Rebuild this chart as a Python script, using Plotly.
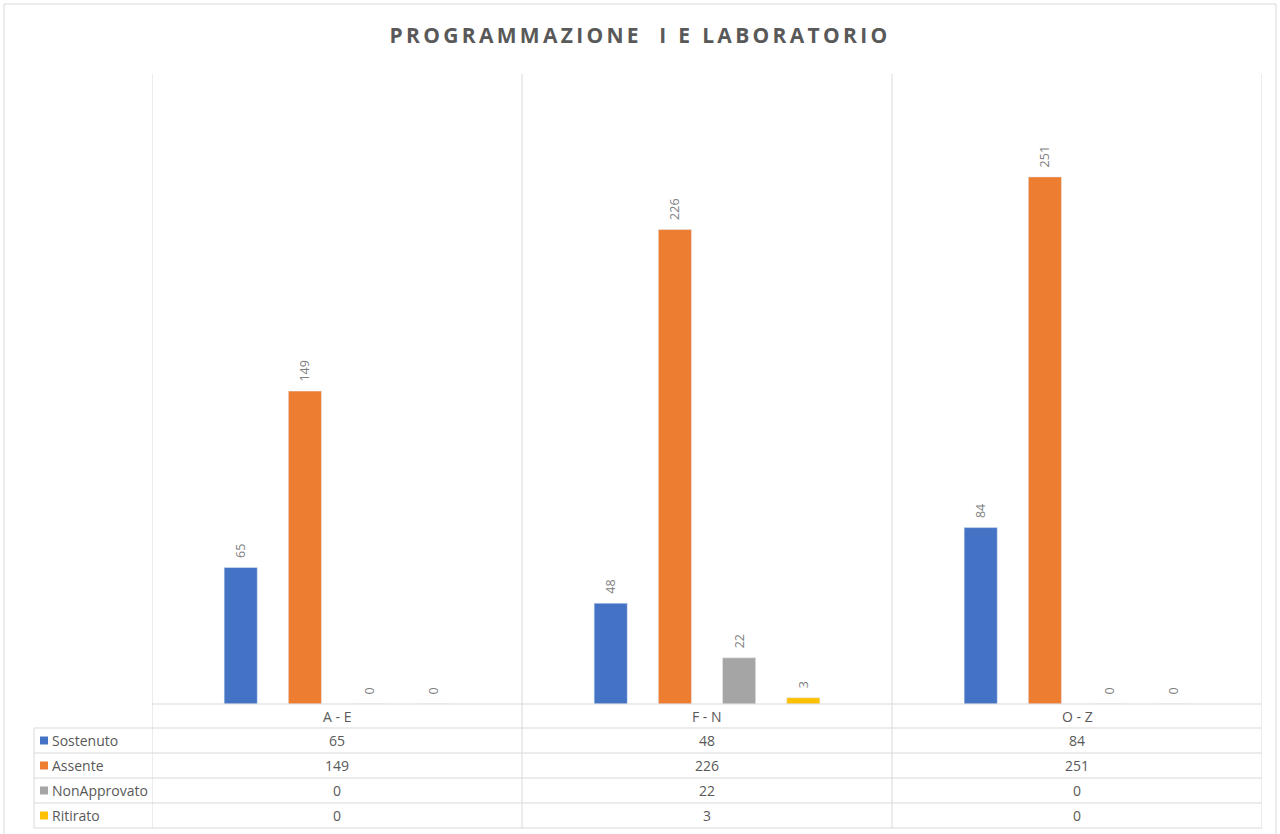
import plotly.graph_objects as go

# data
categories = ["A - E", "F - N", "O - Z"]
series_names = ["Sostenuto", "Assente", "NonApprovato", "Ritirato"]
sostenuto = [65, 48, 84]
assente = [149, 226, 251]
non_approvato = [0, 22, 0]
ritirato = [0, 3, 0]
series_values = [sostenuto, assente, non_approvato, ritirato]
colors = ["#4472C4", "#ED7D31", "#A5A5A5", "#FFC000"]

title = "PROGRAMMAZIONE &nbsp;I E LABORATORIO"

W, H = 1280, 834
L, R, T, B = 152, 18, 74, 130
PW, PH = W - L - R, H - T - B
GRID = "#d9d9d9"
TXT = "#595959"


def px_x(x):
    return (x - L) / PW


def px_y(y):
    return (H - B - y) / PH


fig = go.Figure()
for name, vals, col in zip(series_names, series_values, colors):
    fig.add_trace(go.Bar(
        x=categories, y=vals, name=name, marker_color=col,
        texttemplate="&nbsp;&nbsp;%{y}", textposition="outside", textangle=-90,
        textfont=dict(size=12.5, color="#7f7f7f"), cliponaxis=False,
    ))

shapes = []
# outer chart border
shapes.append(dict(type="rect", xref="paper", yref="paper",
                   x0=px_x(4), x1=px_x(1276), y0=px_y(845), y1=px_y(4),
                   line=dict(color=GRID, width=1)))
# vertical category lines through the table
for i in range(len(categories) + 1):
    shapes.append(dict(type="line", xref="x", yref="paper",
                       x0=i - 0.5, x1=i - 0.5, y0=px_y(828), y1=1,
                       line=dict(color=GRID, width=1)))
# horizontal table lines
row_lines = [704, 728, 753, 778, 803, 828]
for k, yl in enumerate(row_lines):
    x0 = 152 if k == 0 else 34
    shapes.append(dict(type="line", xref="paper", yref="paper",
                       x0=px_x(x0), x1=px_x(1262), y0=px_y(yl), y1=px_y(yl),
                       line=dict(color=GRID, width=1)))
shapes.append(dict(type="line", xref="paper", yref="paper",
                   x0=px_x(34), x1=px_x(34), y0=px_y(828), y1=px_y(728),
                   line=dict(color=GRID, width=1)))

annotations = []
# header row
for c in categories:
    annotations.append(dict(x=c, y=px_y(716.5), xref="x", yref="paper",
                            text=c, showarrow=False, xanchor="center", yanchor="middle",
                            font=dict(size=14, color=TXT)))
# series rows
row_centers = [740.5, 765.5, 790.5, 815.5]
for name, vals, col, yc in zip(series_names, series_values, colors, row_centers):
    shapes.append(dict(type="rect", xref="paper", yref="paper",
                       x0=px_x(40), x1=px_x(48), y0=px_y(yc + 4), y1=px_y(yc - 4),
                       fillcolor=col, line=dict(width=0)))
    annotations.append(dict(x=px_x(50), y=px_y(yc), xref="paper", yref="paper",
                            text=name, showarrow=False, xanchor="left", yanchor="middle",
                            font=dict(size=14, color=TXT)))
    for c, v in zip(categories, vals):
        annotations.append(dict(x=c, y=px_y(yc), xref="x", yref="paper",
                                text=str(v), showarrow=False,
                                xanchor="center", yanchor="middle",
                                font=dict(size=14, color=TXT)))

fig.update_layout(
    width=W, height=H,
    margin=dict(l=L, r=R, t=T, b=B),
    paper_bgcolor="white", plot_bgcolor="white",
    font=dict(family="Open Sans, sans-serif", color=TXT),
    title=dict(text="<b>" + title + "</b>", x=0.5, xref="container", y=1 - 36 / H,
               xanchor="center", yanchor="middle",
               font=dict(size=21, color=TXT, family="Open Sans, sans-serif")),
    barmode="group", bargap=0.306, bargroupgap=0.484,
    showlegend=False,
    xaxis=dict(type="category", range=[-0.5, 2.5], showticklabels=False,
               showgrid=False, zeroline=False, showline=False, fixedrange=True),
    yaxis=dict(range=[0, 300], visible=False, showgrid=False, zeroline=False),
    shapes=shapes, annotations=annotations,
)

post = """
document.body.style.margin = '0';
var t = document.querySelector('.gtitle');
if (t) { t.style.letterSpacing = '3.3px'; }
"""
fig.write_html("out.html", post_script=post, config={"displayModeBar": False})
